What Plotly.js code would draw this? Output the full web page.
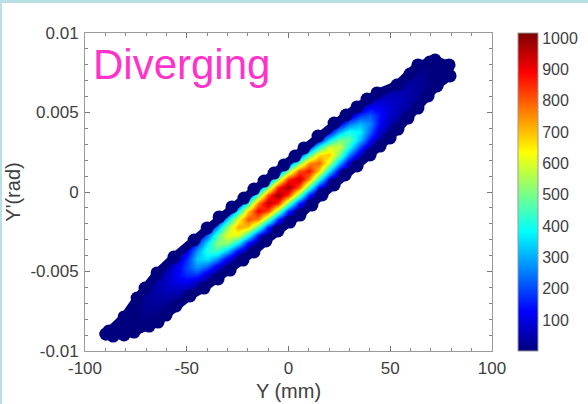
<!DOCTYPE html>
<html><head><meta charset="utf-8">
<script src="https://cdn.plot.ly/plotly-3.0.1.min.js"></script>
<style>html,body{margin:0;padding:0;background:#b9e1e5;width:588px;height:404px;overflow:hidden}
#c{position:absolute;left:2px;top:3px;width:586px;height:401px}</style></head><body><div id="c"></div>
<script>
var xTickVals=[-100,-50,0,50,100];
var xTickText=['-100','-50','0','50','100'];
var yTickVals=[-0.01,-0.005,0,0.005,0.01];
var yTickText=['-0.01','-0.005','0','0.005','0.01'];
var barTicks=[100,200,300,400,500,600,700,800,900,1000];
var edgeX=[-89.7,-88.2,-80.8,-74.4,-70.5,-64.6,-56.3,-46.4,-40.0,-34.1,-27.8,-21.9,-17.0,-12.0,-7.1,-2.2,3.2,7.6,14.5,22.4,28.3,33.7,38.6,43.5,53.3,59.7,63.6,69.5,72.0,78.9,79.4,
73.0,68.6,63.6,58.7,53.8,49.9,45.0,40.1,33.7,27.8,22.4,16.5,11.5,5.7,0.7,-5.2,-11.1,-17.0,-22.4,-28.7,-34.6,-41.5,-48.4,-55.3,-60.2,-64.1,-68.5,-75.9,-80.8,-86.2];
var edgeY=[-.00893,-.00874,-.00786,-.00667,-.00604,-.00509,-.00409,-.00302,-.00226,-.00157,-.00094,-.00038,.00019,.00069,.00119,.00170,.00226,.00277,.00352,.00434,.00484,.00535,.00585,.00623,.00673,.00742,.00799,.00818,.00830,.00799,.00730,
.00667,.00604,.00528,.00465,.00396,.00340,.00289,.00233,.00164,.00107,.00044,-.00019,-.00082,-.00145,-.00189,-.00245,-.00308,-.00377,-.00428,-.00491,-.00547,-.00604,-.00654,-.00717,-.00774,-.00818,-.00843,-.00881,-.00899,-.00906];
var frameX=[-100,100,100,-100,-100];
var frameY=[-0.01,-0.01,0.01,0.01,-0.01];
var gridX=[-95,-90,-85,-80,-75,-70,-65,-60,-55,-50,-45,-40,-35,-30,-25,-20,-15,-10,-5,0,5,10,15,20,25,30,35,40,45,50,55,60,65,70,75,80,85];
var gridY=[-.0097,-.0092,-.0087,-.0082,-.0077,-.0072,-.0067,-.0062,-.0057,-.0052,-.0047,-.0042,-.0037,-.0032,-.0027,-.0022,-.0017,-.0012,-.0007,-.0002,.0003,.0008,.0013,.0018,.0023,.0028,.0033,.0038,.0043,.0048,.0053,.0058,.0063,.0068,.0073,.0078,.0083,.0088,.0093,.0098];
var bandValues=[
[1,5,15,24,28,24,15,5,1],
[1,7,22,36,42,36,22,7,1],
[1,12,36,60,70,60,36,12,1],
[2,20,62,102,120,102,62,20,2],
[4,34,104,170,200,170,104,34,4],
[7,56,172,280,330,280,172,56,7],
[8,71,218,357,420,357,218,71,8],
[10,88,270,442,520,442,270,88,10],
[12,105,322,527,620,527,322,105,12],
[14,122,374,612,720,612,374,122,14],
[16,138,421,688,810,688,421,138,16],
[18,153,468,765,900,765,468,153,18],
[19,163,499,816,960,816,499,163,19],
[20,170,520,850,1000,850,520,170,20],
[20,168,515,842,990,842,515,168,20],
[19,162,494,808,950,808,494,162,19],
[18,150,458,748,880,748,458,150,18],
[16,134,411,672,790,672,411,134,16],
[14,117,359,586,690,586,359,117,14],
[12,100,307,502,590,502,307,100,12],
[10,82,250,408,480,408,250,82,10],
[7,63,192,314,370,314,192,63,7],
[5,44,135,221,260,221,135,44,5],
[3,24,73,119,140,119,73,24,3],
[2,14,44,72,85,72,44,14,2],
[1,10,31,51,60,51,31,10,1],
[1,7,21,34,40,34,21,7,1],
[1,4,13,21,25,21,13,4,1]];
var jet=[[0,'#00007f'],[0.125,'#0000ff'],[0.375,'#00ffff'],[0.625,'#ffff00'],[0.875,'#ff0000'],[1,'#7f0000']];

var z=gridY.map(function(){return gridX.map(function(){return 1;});});
bandValues.forEach(function(col,i){col.forEach(function(v,k){z[i+k+2][i+5]=v;});});

var txtColor='#404040';
var axisBase={showline:true,linecolor:'#9a9a9a',linewidth:1,mirror:'allticks',ticks:'inside',ticklen:5,tickwidth:1,tickcolor:'#777',showgrid:false,zeroline:false,tickmode:'array',ticklabelstandoff:2,tickfont:{family:'Liberation Sans',size:17,color:txtColor}};
var data=[
{type:'heatmap',x:gridX,y:gridY,z:z,zsmooth:'best',colorscale:jet,zmin:1,zmax:1016,
 colorbar:{x:1.064,xanchor:'left',y:0.5,yanchor:'middle',len:1,lenmode:'fraction',thickness:20,thicknessmode:'pixels',xpad:0,ypad:0,outlinecolor:'#9a9a9a',outlinewidth:1,ticks:'',tickmode:'array',tickvals:barTicks,ticktext:barTicks.map(String),tickfont:{family:'Liberation Sans',size:16,color:txtColor}}},
{type:'scatter',x:frameX.concat([null],edgeX,[edgeX[0]]),y:frameY.concat([null],edgeY,[edgeY[0]]),mode:'none',fill:'toself',fillcolor:'#ffffff',hoverinfo:'skip',showlegend:false},
{type:'scatter',x:edgeX.concat([edgeX[0]]),y:edgeY.concat([edgeY[0]]),mode:'lines+markers',line:{color:'#00007f',width:8},marker:{color:'#00007f',size:13},hoverinfo:'skip',showlegend:false}
];
var layout={width:586,height:401,margin:{l:83,r:96,t:30,b:53},paper_bgcolor:'#fff',plot_bgcolor:'#fff',showlegend:false,
 xaxis:Object.assign({},axisBase,{range:[-100,100],tickvals:xTickVals,ticktext:xTickText,minor:{dtick:10,tick0:-100,ticks:'inside',ticklen:3,tickcolor:'#888'},title:{text:'Y (mm)',standoff:6,font:{family:'Liberation Sans',size:20,color:txtColor}}}),
 yaxis:Object.assign({},axisBase,{range:[-0.01,0.01],tickvals:yTickVals,ticktext:yTickText,minor:{dtick:0.001,tick0:-0.01,ticks:'inside',ticklen:3,tickcolor:'#888'},title:{text:"Y'(rad)",standoff:6,font:{family:'Liberation Sans',size:20,color:txtColor}}}),
 annotations:[{text:'Diverging',xref:'paper',yref:'paper',x:0.014,y:0.98,xanchor:'left',yanchor:'top',showarrow:false,font:{family:'Liberation Sans',size:42,color:'#ff33cc'}}]
};
Plotly.newPlot('c',data,layout,{displayModeBar:false,staticPlot:true});
</script></body></html>
